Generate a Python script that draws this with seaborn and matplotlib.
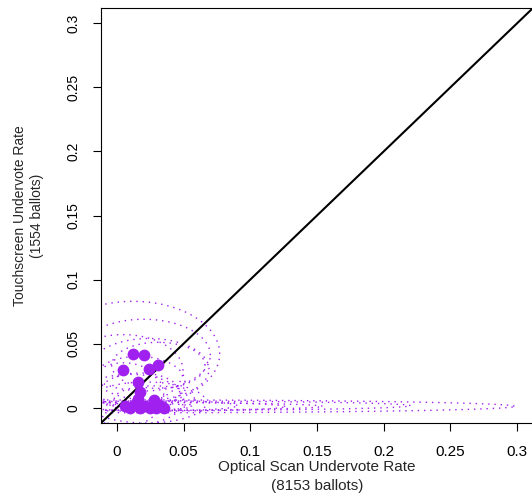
import numpy as np
import pandas as pd
import matplotlib
matplotlib.use("Agg")
import matplotlib.pyplot as plt
import seaborn as sns

# ---- data ----
opt_rate = [0.012, 0.020, 0.0045, 0.024, 0.031, 0.016, 0.017, 0.016, 0.028,
            0.006, 0.010, 0.013, 0.017, 0.021, 0.025, 0.029, 0.033, 0.035, 0.030]
touch_rate = [0.042, 0.041, 0.029, 0.030, 0.033, 0.020, 0.012, 0.007, 0.006,
              0.001, 0.000, 0.002, 0.000, 0.001, 0.000, 0.000, 0.001, 0.000, 0.003]

# confidence ellipses: centre x, centre y, half-width x, half-height y
ell_cx = [0.012, 0.020, 0.0045, 0.024, 0.031, 0.016, 0.017, 0.028,
          0.010, 0.022, 0.005,
          0.010, 0.020, 0.014, 0.026, 0.030, 0.006]
ell_cy = [0.042, 0.041, 0.029, 0.030, 0.033, 0.020, 0.012, 0.007,
          0.006, 0.004, 0.010,
          0.001, 0.0015, 0.001, 0.0008, 0.0015, 0.0008]
ell_rx = [0.065, 0.050, 0.045, 0.045, 0.035, 0.035, 0.030, 0.030,
          0.040, 0.045, 0.030,
          0.288, 0.200, 0.140, 0.100, 0.060, 0.050]
ell_ry = [0.041, 0.028, 0.028, 0.024, 0.018, 0.020, 0.015, 0.010,
          0.020, 0.016, 0.025,
          0.005, 0.0037, 0.003, 0.0035, 0.004, 0.003]

tick_vals = [0, 0.05, 0.1, 0.15, 0.2, 0.25, 0.3]
tick_labels = ["0", "0.05", "0.1", "0.15", "0.2", "0.25", "0.3"]

x_title = "Optical Scan Undervote Rate\n(8153 ballots)"
y_title = "Touchscreen Undervote Rate\n(1554 ballots)"

purple = "#A020F0"

sns.set_style("white")
plt.rcParams["font.family"] = ["Liberation Sans", "DejaVu Sans"]

fig = plt.figure(figsize=(5.32, 4.96), dpi=100)
ax = fig.add_axes([101 / 532, 73 / 496, 432 / 532, 415 / 496])

# ellipses
t = np.linspace(0, 2 * np.pi, 400)
rows = []
for i, (cx, cy, rx, ry) in enumerate(zip(ell_cx, ell_cy, ell_rx, ell_ry)):
    rows.append(pd.DataFrame({"x": cx + rx * np.cos(t), "y": cy + ry * np.sin(t),
                              "e": i}))
ell_df = pd.concat(rows, ignore_index=True)
for i, g in ell_df.groupby("e"):
    sns.lineplot(data=g, x="x", y="y", sort=False, ax=ax, color=purple,
                 lw=1.0, linestyle=(0, (1, 3.5)), estimator=None, legend=False)

# diagonal
diag = pd.DataFrame({"x": [-0.012, 0.312], "y": [-0.012, 0.312]})
sns.lineplot(data=diag, x="x", y="y", ax=ax, color="black", lw=1.5, legend=False)

# points
pts = pd.DataFrame({"opt": opt_rate, "touch": touch_rate})
sns.scatterplot(data=pts, x="opt", y="touch", ax=ax, color=purple, s=72,
                edgecolor=purple, linewidth=0, zorder=3)

ax.set_xlim(-0.012, 0.312)
ax.set_ylim(-0.012, 0.312)
ax.set_xticks(tick_vals)
ax.set_xticklabels(tick_labels, fontsize=11)
ax.set_yticks(tick_vals)
ax.set_yticklabels(tick_labels, rotation=90, va="center", fontsize=10)
ax.tick_params(axis="both", direction="out", length=5.8, width=0.8,
               pad=9, color="black", labelcolor="black",
               bottom=True, left=True)
ax.tick_params(axis="x", pad=10)
for s in ["left", "bottom", "top", "right"]:
    ax.spines[s].set_color("black")
    ax.spines[s].set_linewidth(0.8)
    ax.spines[s].set_visible(True)

ax.set_xlabel(x_title, fontsize=11, linespacing=1.45, labelpad=1)
ax.set_ylabel(y_title, fontsize=10, linespacing=1.3, labelpad=16)

fig.savefig("out.png", dpi=100)
